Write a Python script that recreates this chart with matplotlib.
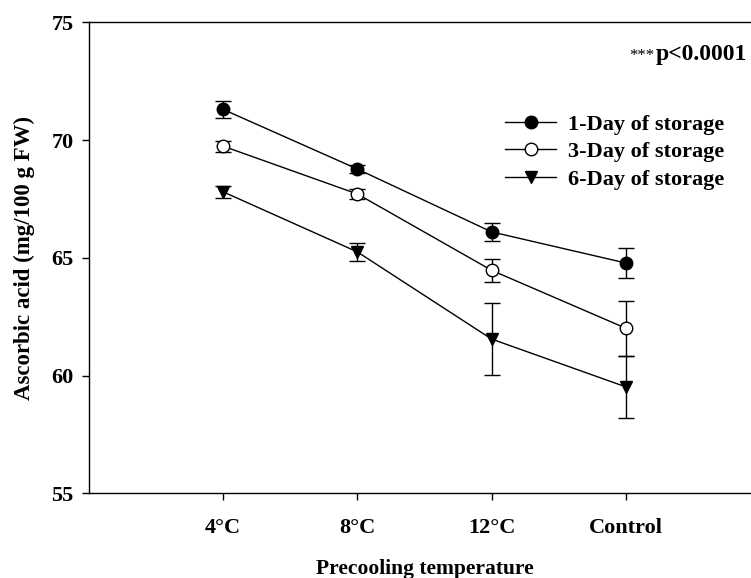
import matplotlib.pyplot as plt
from matplotlib.lines import Line2D

temps = ["4°C", "8°C", "12°C", "Control"]
day1 = [71.3, 68.77, 66.1, 64.78]
day1_err = [0.37, 0.15, 0.37, 0.64]
day3 = [69.74, 67.71, 64.47, 62.01]
day3_err = [0.24, 0.2, 0.48, 1.17]
day6 = [67.8, 65.25, 61.55, 59.52]
day6_err = [0.25, 0.37, 1.53, 1.32]

plt.rcParams["font.family"] = ["Liberation Serif", "DejaVu Serif"]
plt.rcParams["font.weight"] = "bold"

fig = plt.figure(figsize=(7.51, 5.78), dpi=100)
ax = fig.add_axes([0.1185, 0.1465, 0.8935, 0.8149])

x = list(range(1, len(temps) + 1))
series = [
    (day1, day1_err, "o", "black", "1-Day of storage"),
    (day3, day3_err, "o", "white", "3-Day of storage"),
    (day6, day6_err, "v", "black", "6-Day of storage"),
]
handles = []
for vals, errs, m, fc, lab in series:
    ax.errorbar(x, vals, yerr=errs, marker=m, markersize=9, markerfacecolor=fc,
                markeredgecolor="black", markeredgewidth=1, color="black", lw=1,
                elinewidth=1, capsize=6, capthick=1)
    handles.append(Line2D([], [], marker=m, markersize=9, markerfacecolor=fc,
                          markeredgecolor="black", color="black", lw=1, label=lab))

ax.set_xlim(0, 5)
ax.set_ylim(55, 75)
ax.set_yticks([55, 60, 65, 70, 75])
ax.set_xticks(x)
ax.set_xticklabels(temps)
ax.tick_params(direction="out", length=5, width=1, labelsize=16)
ax.tick_params(axis="x", pad=13)
ax.tick_params(axis="y", pad=6)
for s in ax.spines.values():
    s.set_linewidth(1)

ax.set_ylabel("Ascorbic acid (mg/100 g FW)", fontsize=16.5, fontweight="bold", labelpad=12)
ax.set_xlabel("Precooling temperature", fontsize=15.5, fontweight="bold", labelpad=15)

ptxt = ax.text(0.9806, 0.919, "p<0.0001", transform=ax.transAxes, ha="right",
               va="baseline", fontsize=17, fontweight="bold")
fig.canvas.draw()
bb = ptxt.get_window_extent().transformed(ax.transAxes.inverted())
ax.text(bb.x0 - 0.002, 0.919, "***", transform=ax.transAxes, ha="right",
        va="baseline", fontsize=12, fontweight="normal")

ax.legend(handles=handles, loc="upper left", bbox_to_anchor=(0.62, 0.805),
          frameon=False, fontsize=16, handlelength=2.3, handletextpad=0.55,
          labelspacing=0.31, borderaxespad=0, borderpad=0)

fig.savefig("out.png", dpi=100)
